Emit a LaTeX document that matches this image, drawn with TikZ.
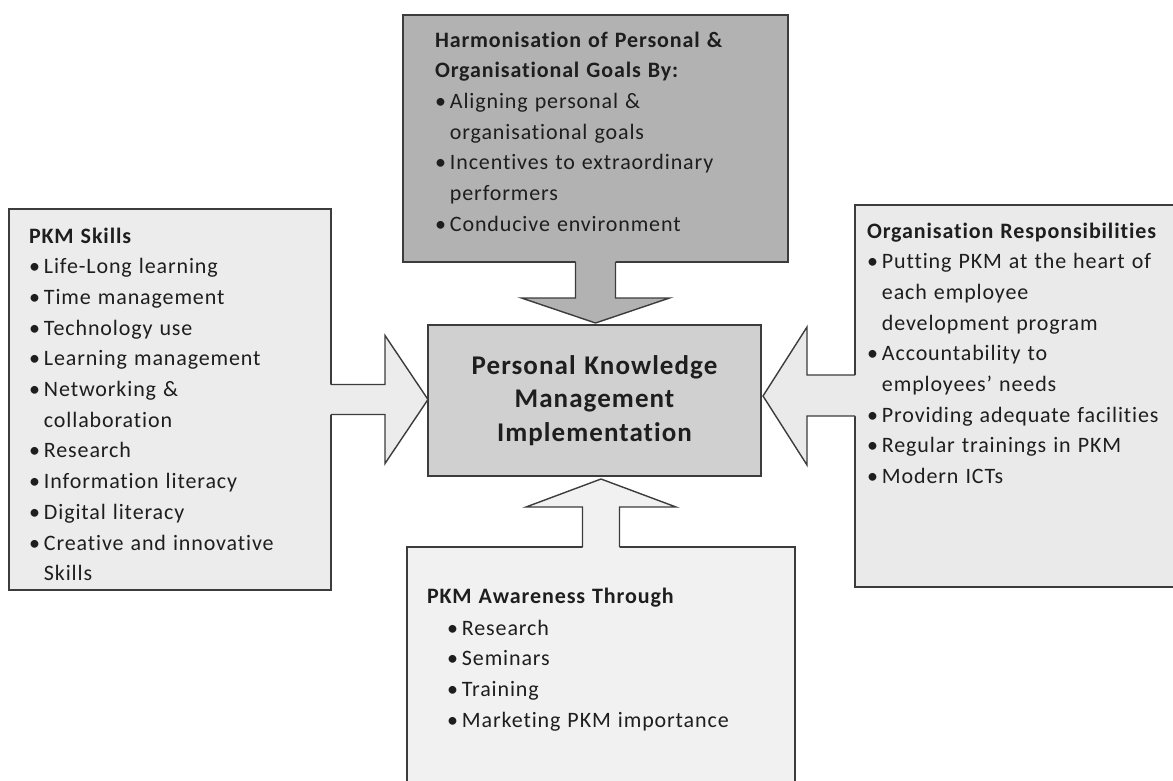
\documentclass[tikz,border=0pt]{standalone}
\usepackage{fontspec}
\setmainfont{Carlito}[LetterSpace=4.0, WordSpace=1.2, Ligatures=NoCommon]
\usetikzlibrary{calc}
\definecolor{edge}{HTML}{3C3C3C}
\definecolor{fillL}{HTML}{ECECEC}
\definecolor{fillR}{HTML}{EAEAEA}
\definecolor{fillB}{HTML}{F1F1F1}
\definecolor{fillT}{HTML}{B2B2B2}
\definecolor{fillC}{HTML}{D0D0D0}
\definecolor{ink}{HTML}{1E1E1E}
\tikzset{
  panel/.style={draw=edge, line width=1.6pt, inner sep=0pt, outer sep=0pt},
  txt/.style={anchor=base west, inner sep=0pt, outer sep=0pt, text=ink,
    font=\fontsize{22}{30.7}\selectfont},
  blockline/.style={draw=edge, line width=1.4pt, line join=miter},
}
\newcommand{\blist}[1]{\begin{tabular}[t]{@{}l@{\hspace{4pt}}l@{}}#1\end{tabular}}
\newcommand{\hd}[1]{\multicolumn{2}{@{}l@{}}{\textbf{#1}}}
\begin{document}
\begin{tikzpicture}[x=1pt,y=-1pt]
\useasboundingbox (0,0) rectangle (1173,780);
\clip (0,0) rectangle (1173,780);
\fill[white] (0,0) rectangle (1173,780);

% boxes
\node[panel, fill=fillL, minimum width=322pt, minimum height=381pt] (L) at (170,399.5) {};
\node[panel, fill=fillT, minimum width=385pt, minimum height=247pt] (T) at (595.5,138.5) {};
\node[panel, fill=fillR, minimum width=340pt, minimum height=382pt, anchor=north west] (R) at (855,205) {};
\node[panel, fill=fillB, minimum width=388pt, minimum height=260pt, anchor=north west] (B) at (407,547) {};
\node[panel, fill=fillC, minimum width=333pt, minimum height=151pt] (C) at (594.5,400.5) {};

% left arrow
\path let \p1=(L.east), \p2=(C.west) in
  coordinate (la1) at (\x1-2pt,\y1+15pt) coordinate (la2) at (\x1+54pt,\y1+15pt)
  coordinate (la3) at (\x1+54pt,\y1+64pt) coordinate (la4) at (\x2,\y1)
  coordinate (la5) at (\x1+54pt,\y1-64pt) coordinate (la6) at (\x1+54pt,\y1-15pt)
  coordinate (la7) at (\x1-2pt,\y1-15pt);
\fill[fillL] (la1) -- (la2) -- (la3) -- (la4) -- (la5) -- (la6) -- (la7) -- cycle;
\draw[blockline] ($(la1)+(2pt,0)$) -- (la2) -- (la3) -- (la4) -- (la5) -- (la6) -- ($(la7)+(2pt,0)$);

% right arrow
\path let \p1=(R.west), \p2=(C.east) in
  coordinate (ra1) at (\x1+2pt,\y1+21pt) coordinate (ra2) at (\x1-48pt,\y1+21pt)
  coordinate (ra3) at (\x1-48pt,\y1+69pt) coordinate (ra4) at (\x2+2pt,\y1)
  coordinate (ra5) at (\x1-48pt,\y1-69pt) coordinate (ra6) at (\x1-48pt,\y1-20pt)
  coordinate (ra7) at (\x1+2pt,\y1-20pt);
\fill[fillR] (ra1) -- (ra2) -- (ra3) -- (ra4) -- (ra5) -- (ra6) -- (ra7) -- cycle;
\draw[blockline] ($(ra1)-(2pt,0)$) -- (ra2) -- (ra3) -- (ra4) -- (ra5) -- (ra6) -- ($(ra7)-(2pt,0)$);

% top arrow
\path let \p1=(T.south), \p2=(C.north) in
  coordinate (ta1) at (\x1-20pt,\y1+2pt) coordinate (ta2) at (\x1-20pt,\y1-36pt)
  coordinate (ta3) at (\x1-74pt,\y1-36pt) coordinate (ta4) at (\x1,\y2+2pt)
  coordinate (ta5) at (\x1+74pt,\y1-36pt) coordinate (ta6) at (\x1+20pt,\y1-36pt)
  coordinate (ta7) at (\x1+20pt,\y1+2pt);
\fill[fillT] (ta1) -- (ta2) -- (ta3) -- (ta4) -- (ta5) -- (ta6) -- (ta7) -- cycle;
\draw[blockline] ($(ta1)-(0,2pt)$) -- (ta2) -- (ta3) -- (ta4) -- (ta5) -- (ta6) -- ($(ta7)-(0,2pt)$);

% bottom arrow
\path let \p1=(B.north), \p2=(C.south) in
  coordinate (ba1) at (\x1-18.5pt,\y1-2pt) coordinate (ba2) at (\x1-18.5pt,\y1+40pt)
  coordinate (ba3) at (\x1-75pt,\y1+40pt) coordinate (ba4) at (\x1,\y2-3pt)
  coordinate (ba5) at (\x1+75pt,\y1+40pt) coordinate (ba6) at (\x1+18.5pt,\y1+40pt)
  coordinate (ba7) at (\x1+18.5pt,\y1-2pt);
\fill[fillB] (ba1) -- (ba2) -- (ba3) -- (ba4) -- (ba5) -- (ba6) -- (ba7) -- cycle;
\draw[blockline] ($(ba1)+(0,2pt)$) -- (ba2) -- (ba3) -- (ba4) -- (ba5) -- (ba6) -- ($(ba7)+(0,2pt)$);

% texts
\node[txt] (Ltxt) at (29,243) {\blist{%
\hd{PKM Skills}\\
\textbullet & Life-Long learning\\
\textbullet & Time management\\
\textbullet & Technology use\\
\textbullet & Learning management\\
\textbullet & Networking \&\\
 & collaboration\\
\textbullet & Research\\
\textbullet & Information literacy\\
\textbullet & Digital literacy\\
\textbullet & Creative and innovative\\
 & Skills}};

\node[txt] (Ttxt) at (435,47) {\blist{%
\hd{Harmonisation of Personal \&}\\
\hd{Organisational Goals By:}\\
\textbullet & Aligning personal \&\\
 & organisational goals\\
\textbullet & Incentives to extraordinary\\
 & performers\\
\textbullet & Conducive environment}};

\node[txt] (Rtxt) at (867,238) {\blist{%
\hd{Organisation Responsibilities}\\
\textbullet & Putting PKM at the heart of\\
 & each employee\\
 & development program\\
\textbullet & Accountability to\\
 & employees’ needs\\
\textbullet & Providing adequate facilities\\
\textbullet & Regular trainings in PKM\\
\textbullet & Modern ICTs}};

\node[txt] (Bhead) at (427,603) {\textbf{PKM Awareness Through}};
\node[txt] (Btxt) at (447,635) {\blist{%
\textbullet & Research\\
\textbullet & Seminars\\
\textbullet & Training\\
\textbullet & Marketing PKM importance}};

\node[inner sep=0pt, align=center, text=ink,
  font=\fontsize{27}{33.5}\selectfont\bfseries] (Ctxt) at (C.center) {Personal Knowledge\\Management\\Implementation};
\end{tikzpicture}
\end{document}
